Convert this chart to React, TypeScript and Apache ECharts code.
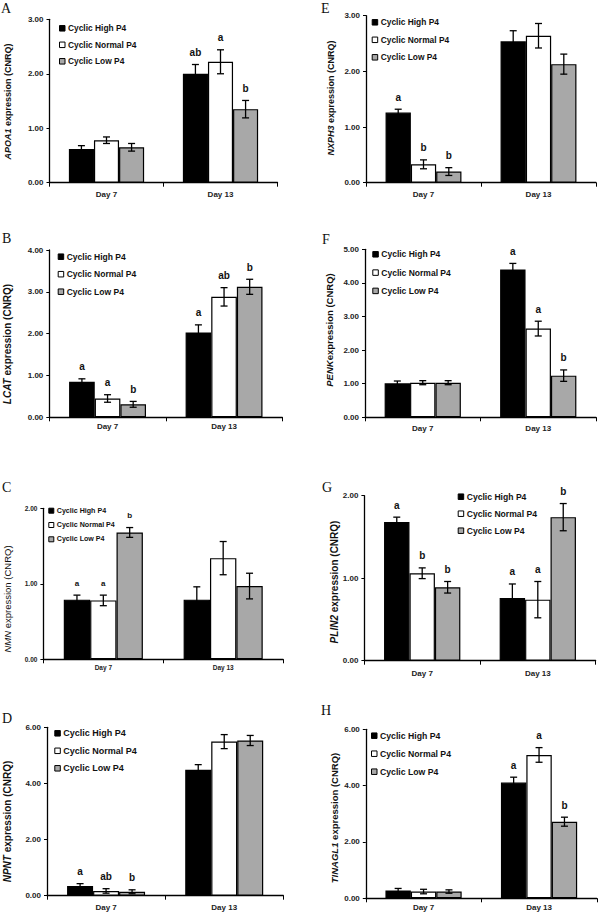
import React, { useEffect, useRef } from "react";
import * as echarts from "echarts";

// ---------- data ----------
const CATEGORIES = ["Day 7", "Day 13"];
const GROUPS = ["Cyclic High P4", "Cyclic Normal P4", "Cyclic Low P4"];

// rows: High, Normal, Low ; columns: Day 7, Day 13
const APOA1_MEAN = [[0.62, 2.0], [0.78, 2.22], [0.65, 1.35]];
const APOA1_SE = [[0.06, 0.17], [0.06, 0.22], [0.07, 0.16]];
const APOA1_LETTERS = [["", "ab"], ["", "a"], ["", "b"]];
const APOA1_TICKS = [0, 1, 2, 3];

const LCAT_MEAN = [[0.85, 2.03], [0.45, 2.88], [0.31, 3.12]];
const LCAT_SE = [[0.07, 0.18], [0.09, 0.22], [0.07, 0.18]];
const LCAT_LETTERS = [["a", "a"], ["a", "ab"], ["b", "b"]];
const LCAT_TICKS = [0, 1, 2, 3, 4];

const NMN_MEAN = [[0.79, 0.79], [0.78, 1.34], [1.68, 0.97]];
const NMN_SE = [[0.06, 0.17], [0.07, 0.22], [0.065, 0.17]];
const NMN_LETTERS = [["a", ""], ["a", ""], ["b", ""]];
const NMN_TICKS = [0, 1, 2];

const NPNT_MEAN = [[0.35, 4.49], [0.17, 5.49], [0.14, 5.53]];
const NPNT_SE = [[0.08, 0.18], [0.08, 0.25], [0.07, 0.18]];
const NPNT_LETTERS = [["a", ""], ["ab", ""], ["b", ""]];
const NPNT_TICKS = [0, 2, 4, 6];

const NXPH3_MEAN = [[1.26, 2.54], [0.33, 2.64], [0.2, 2.13]];
const NXPH3_SE = [[0.06, 0.19], [0.08, 0.22], [0.07, 0.18]];
const NXPH3_LETTERS = [["a", ""], ["b", ""], ["b", ""]];
const NXPH3_TICKS = [0, 1, 2, 3];

const PENK_MEAN = [[1.01, 4.4], [1.03, 2.64], [1.03, 1.24]];
const PENK_SE = [[0.07, 0.18], [0.06, 0.22], [0.06, 0.17]];
const PENK_LETTERS = [["", "a"], ["", "a"], ["", "b"]];
const PENK_TICKS = [0, 1, 2, 3, 4, 5];

const PLIN2_MEAN = [[1.68, 0.76], [1.06, 0.74], [0.89, 1.74]];
const PLIN2_SE = [[0.06, 0.17], [0.065, 0.22], [0.07, 0.165]];
const PLIN2_LETTERS = [["a", "a"], ["b", "a"], ["b", "b"]];
const PLIN2_TICKS = [0, 1, 2];

const TINAGL1_MEAN = [[0.28, 4.11], [0.24, 5.09], [0.24, 2.72]];
const TINAGL1_SE = [[0.07, 0.19], [0.08, 0.26], [0.06, 0.16]];
const TINAGL1_LETTERS = [["", "a"], ["", "a"], ["", "b"]];
const TINAGL1_TICKS = [0, 2, 4, 6];

// ---------- styling / layout ----------
const COLORS = ["#000000", "#ffffff", "#a8a8a8"];
const SANS = "'Liberation Sans', Arial, sans-serif";
const SERIF = "'Liberation Serif', 'Times New Roman', serif";
const GAP = 0.34;

const PANELS = [
  { tag: "A", gene: "APOA1", mean: APOA1_MEAN, se: APOA1_SE, letters: APOA1_LETTERS, ticks: APOA1_TICKS,
    grid: [49.5, 19.3, 228, 163.4], legend: [59, 28.3, 16.5, 8.4], title: [8, 101.5, 9, true], tagPos: [1, 8], xlab: 12.7, small: false },
  { tag: "B", gene: "LCAT", mean: LCAT_MEAN, se: LCAT_SE, letters: LCAT_LETTERS, ticks: LCAT_TICKS,
    grid: [49.3, 250, 233, 167.3], legend: [57.7, 256.7, 17.5, 8.5], title: [7, 344, 10, true], tagPos: [2, 238], xlab: 9.7, small: false },
  { tag: "C", gene: "NMN", mean: NMN_MEAN, se: NMN_SE, letters: NMN_LETTERS, ticks: NMN_TICKS,
    grid: [43.4, 508.3, 239.7, 151], legend: [48.3, 510.7, 14.3, 7.1], title: [7, 599, 9.5, false], tagPos: [2, 487], xlab: 9.5, small: true },
  { tag: "D", gene: "NPNT", mean: NPNT_MEAN, se: NPNT_SE, letters: NPNT_LETTERS, ticks: NPNT_TICKS,
    grid: [47, 727.3, 236.3, 168.4], legend: [54.3, 733.3, 17.5, 9], title: [7, 821.5, 10, true], tagPos: [2, 718], xlab: 12.3, small: false },
  { tag: "E", gene: "NXPH3", mean: NXPH3_MEAN, se: NXPH3_SE, letters: NXPH3_LETTERS, ticks: NXPH3_TICKS,
    grid: [366, 15.7, 230, 167], legend: [371.7, 22.3, 17.5, 8.4], title: [331, 98, 9, true], tagPos: [321, 8], xlab: 12.6, small: false },
  { tag: "F", gene: "PENK", mean: PENK_MEAN, se: PENK_SE, letters: PENK_LETTERS, ticks: PENK_TICKS,
    grid: [365, 249.3, 231, 168], legend: [372.3, 254.3, 18.3, 8.5], title: [329, 330, 9.5, true], tagPos: [322, 239.5], xlab: 12.3, small: false, noSpace: true },
  { tag: "G", gene: "PLIN2", mean: PLIN2_MEAN, se: PLIN2_SE, letters: PLIN2_LETTERS, ticks: PLIN2_TICKS,
    grid: [364.4, 495.7, 231.2, 165], legend: [457.7, 496.7, 17, 8.6], title: [334.5, 582, 10, true], tagPos: [322, 487], xlab: 14, small: false },
  { tag: "H", gene: "TINAGL1", mean: TINAGL1_MEAN, se: TINAGL1_SE, letters: TINAGL1_LETTERS, ticks: TINAGL1_TICKS,
    grid: [365.8, 729.3, 231, 169], legend: [371, 735.7, 18, 8.7], title: [334.5, 818, 9.5, true], tagPos: [321, 710], xlab: 9.7, small: false },
];

function buildOption() {
  const grid: any[] = [];
  const xAxis: any[] = [];
  const yAxis: any[] = [];
  const series: any[] = [];
  const legend: any[] = [];
  const graphic: any[] = [];

  PANELS.forEach((p: any, i: number) => {
    const [gl, gt, gw, gh] = p.grid;
    grid.push({ left: gl, top: gt, width: gw, height: gh, containLabel: false });
    const tickFont = p.small ? 6.5 : 8;
    const dayFont = p.small ? 6.5 : 8;
    xAxis.push({
      type: "category",
      gridIndex: i,
      data: CATEGORIES,
      axisLine: { lineStyle: { color: "#000", width: 1.3 } },
      axisTick: { show: true, length: 4, interval: 0, lineStyle: { color: "#000", width: 1 } },
      axisLabel: { interval: 0, fontFamily: SANS, fontWeight: "bold", fontSize: dayFont, color: "#222", margin: p.xlab - 5 },
      splitLine: { show: false },
    });
    const t = p.ticks;
    yAxis.push({
      type: "value",
      gridIndex: i,
      min: t[0],
      max: t[t.length - 1],
      interval: t[1] - t[0],
      axisLine: { show: true, lineStyle: { color: "#000", width: 1.3 } },
      axisTick: { show: true, length: 3, lineStyle: { color: "#000", width: 1 } },
      axisLabel: { fontFamily: SANS, fontWeight: "bold", fontSize: tickFont, color: "#222", margin: 6, formatter: (v: number) => v.toFixed(2) },
      splitLine: { show: false },
    });

    GROUPS.forEach((name, g) => {
      series.push({
        type: "bar",
        name,
        xAxisIndex: i,
        yAxisIndex: i,
        data: p.mean[g],
        barGap: "0%",
        barCategoryGap: GAP * 100 + "%",
        itemStyle: { color: COLORS[g], borderColor: "#000", borderWidth: 1.2 },
        emphasis: { disabled: true },
        z: 2,
      });
    });

    GROUPS.forEach((name, g) => {
      const data = CATEGORIES.map((c, ci) => [ci, p.mean[g][ci], p.se[g][ci]]);
      series.push({
        type: "custom",
        name: "err-" + p.tag + "-" + g,
        xAxisIndex: i,
        yAxisIndex: i,
        data,
        z: 5,
        silent: true,
        renderItem: (params: any, api: any) => {
          const ci = api.value(0);
          const m = api.value(1);
          const e = api.value(2);
          const catW = api.size([1, 0])[0];
          const bw = (catW * (1 - GAP)) / 3;
          const base = api.coord([ci, m]);
          const cx = base[0] + (g - 1) * bw;
          const yTop = api.coord([ci, m + e])[1];
          const yBot = api.coord([ci, m - e])[1];
          const cap = 3.5;
          const ls = { stroke: "#000", lineWidth: 1.3 };
          const children: any[] = [
            { type: "line", shape: { x1: cx, y1: yTop, x2: cx, y2: yBot }, style: ls },
            { type: "line", shape: { x1: cx - cap, y1: yTop, x2: cx + cap, y2: yTop }, style: ls },
            { type: "line", shape: { x1: cx - cap, y1: yBot, x2: cx + cap, y2: yBot }, style: ls },
          ];
          const letter = p.letters[g][params.dataIndex];
          if (letter) {
            children.push({
              type: "text",
              x: cx,
              y: yTop - 12,
              style: {
                text: letter,
                fill: "#111",
                fontFamily: SANS,
                fontWeight: "bold",
                fontSize: p.small ? 8 : 10,
                align: "center",
                verticalAlign: "middle",
              },
            });
          }
          return { type: "group", children };
        },
      });
    });

    const [ll, ly, lstep, lfont] = p.legend;
    const lh = 12;
    const isz = p.small ? 5 : 5.5;
    legend.push({
      orient: "vertical",
      left: ll,
      top: ly - lh / 2,
      padding: 0,
      itemGap: lstep - lh,
      itemWidth: isz,
      itemHeight: isz,
      selectedMode: false,
      data: GROUPS.map((n, g) => ({ name: n, icon: "rect", itemStyle: { color: COLORS[g], borderColor: "#000", borderWidth: 1 } })),
      textStyle: { fontFamily: SANS, fontWeight: "bold", fontSize: lfont, lineHeight: lh, color: "#111", padding: [0, 0, 0, -2] },
    });

    const [tx, ty, tf, tb] = p.title;
    const w = tb ? "bold" : "normal";
    graphic.push({
      type: "text",
      x: tx,
      y: ty,
      rotation: Math.PI / 2,
      style: {
        text: "{g|" + p.gene + "}{t|" + (p.noSpace ? "" : " ") + "expression (CNRQ)}",
        align: "center",
        verticalAlign: "middle",
        fill: "#111",
        rich: {
          g: { fontFamily: SANS, fontStyle: "italic", fontWeight: w, fontSize: tf, fill: "#111" },
          t: { fontFamily: SANS, fontWeight: w, fontSize: tf, fill: "#111" },
        },
      },
    });
    graphic.push({
      type: "text",
      x: p.tagPos[0],
      y: p.tagPos[1],
      style: { text: p.tag, fontFamily: SERIF, fontSize: 14, fill: "#111", align: "left", verticalAlign: "middle" },
    });
  });

  return { animation: false, backgroundColor: "#fff", grid, xAxis, yAxis, series, legend, graphic };
}

export default function App() {
  const ref = useRef<HTMLDivElement>(null);
  useEffect(() => {
    document.body.style.margin = "0";
    if (!ref.current) return;
    const chart = echarts.init(ref.current, undefined, { renderer: "svg" });
    chart.setOption(buildOption() as any);
    return () => chart.dispose();
  }, []);
  return <div ref={ref} style={{ width: 600, height: 915 }} />;
}
